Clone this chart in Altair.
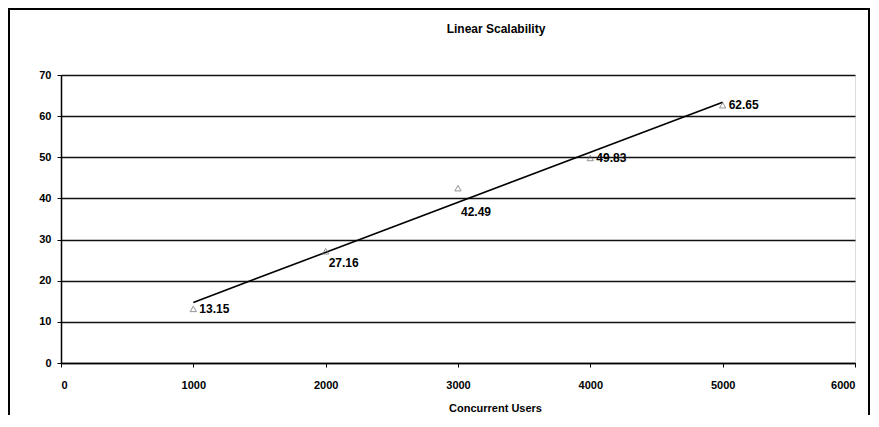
import altair as alt
import pandas as pd

users = [1000, 2000, 3000, 4000, 5000]
values = [13.15, 27.16, 42.49, 49.83, 62.65]
label_side = ["right", "below", "far_below", "right", "right"]
x_ticks = [0, 1000, 2000, 3000, 4000, 5000, 6000]
y_ticks = [0, 10, 20, 30, 40, 50, 60, 70]

df = pd.DataFrame({"users": users, "value": values, "side": label_side,
                   "label": [f"{v:.2f}" for v in values]})

FONT = "Liberation Sans"

x = alt.X("users:Q", scale=alt.Scale(domain=[0, 6000], nice=False),
          axis=alt.Axis(values=x_ticks, format="d", title="Concurrent Users", grid=False,
                        labelFont=FONT, labelFontWeight="bold", labelFontSize=11,
                        labelColor="black", titleFont=FONT, titleFontWeight="bold",
                        titleFontSize=11, titleColor="black", titleX=434, titlePadding=12,
                        labelPadding=12, tickColor="black", tickSize=4,
                        domainColor="black", domainWidth=1.5))
y = alt.Y("value:Q", scale=alt.Scale(domain=[0, 70], nice=False),
          axis=alt.Axis(values=y_ticks, title=None, grid=True, gridColor="#111",
                        gridWidth=1.6, labelFont=FONT, labelFontWeight="bold",
                        labelFontSize=11, labelColor="black", labelPadding=6,
                        tickColor="black", tickSize=4, domainColor="black",
                        domainWidth=1.5))

base = alt.Chart(df)

frame = alt.Chart(pd.DataFrame({"a": [0]})).mark_rect(
    fill=None, stroke="black", strokeWidth=2
).encode(x=alt.value(-52), x2=alt.value(808), y=alt.value(-66), y2=alt.value(400))

trend = base.transform_regression("users", "value").mark_line(
    color="black", strokeWidth=1.6
).encode(x=x, y=y)

points = base.mark_point(shape="triangle-up", filled=False, color="#666",
                         size=40, strokeWidth=1).encode(x=x, y=y)

lab_right = base.transform_filter(alt.datum.side == "right").mark_text(
    align="left", baseline="middle", dx=6, font=FONT, fontWeight="bold",
    fontSize=12, color="black").encode(x=x, y=y, text="label:N")

lab_below = base.transform_filter(alt.datum.side == "below").mark_text(
    align="left", baseline="top", dx=3, dy=7, font=FONT, fontWeight="bold",
    fontSize=12, color="black").encode(x=x, y=y, text="label:N")

lab_far = base.transform_filter(alt.datum.side == "far_below").mark_text(
    align="left", baseline="top", dx=3, dy=19, font=FONT, fontWeight="bold",
    fontSize=12, color="black").encode(x=x, y=y, text="label:N")

chart = alt.layer(frame, trend, points, lab_right, lab_below, lab_far).properties(
    width=794, height=288,
    autosize=alt.AutoSizeParams(type="none"),
    padding={"left": 53, "top": 67, "right": 16, "bottom": 52},
    title=alt.TitleParams("Linear Scalability", font=FONT, fontWeight="bold",
                          fontSize=12, color="black", dx=38, offset=-28),
).configure_view(stroke="#888", strokeWidth=1.5).configure(background="white")

chart.save("out.html", embed_options={"renderer": "svg", "actions": False})
